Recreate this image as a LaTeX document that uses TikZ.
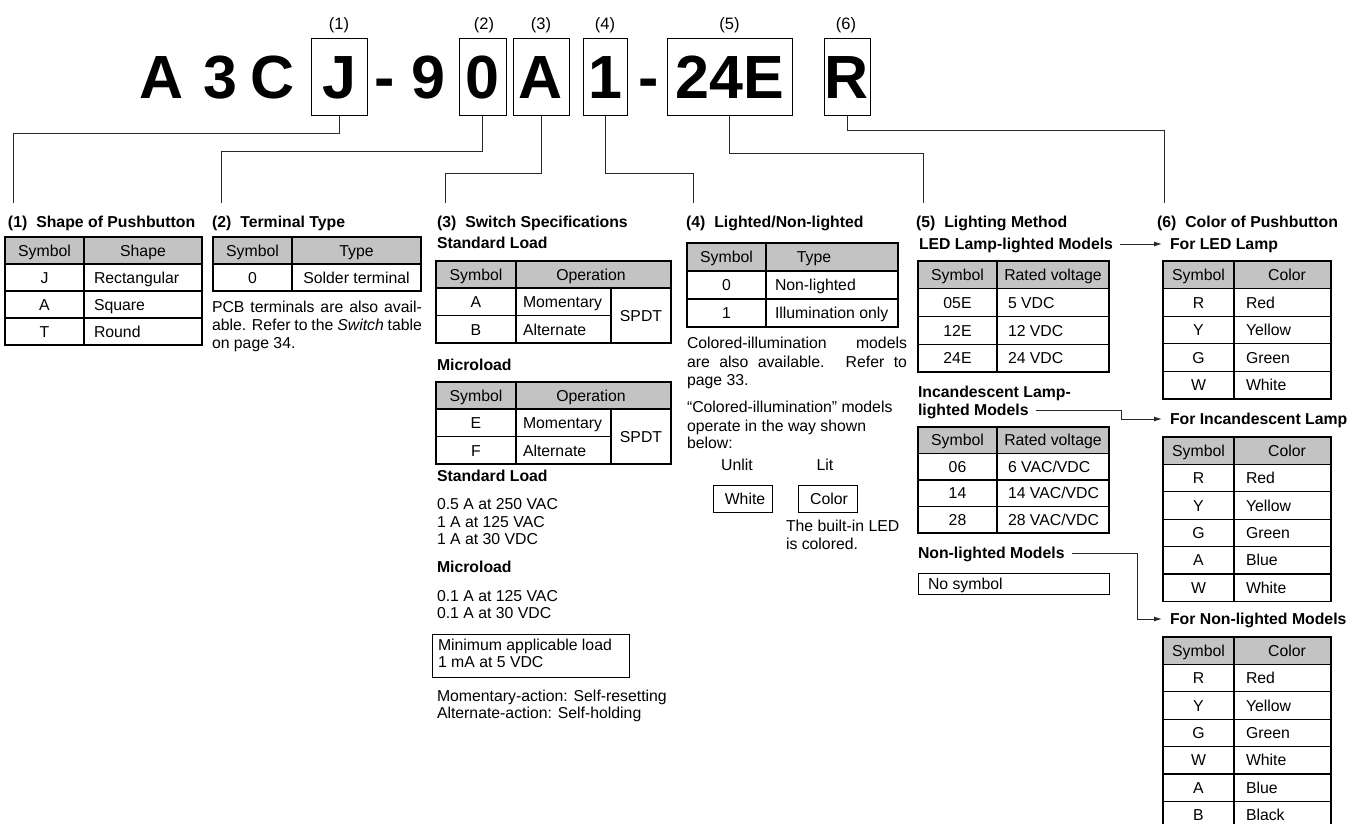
\documentclass[tikz,border=0pt]{standalone}
\usepackage{fontspec}
\setmainfont{Liberation Sans}
\usetikzlibrary{arrows.meta}
\definecolor{hdr}{RGB}{195,195,195}
\definecolor{lnc}{RGB}{40,40,40}
\newcommand\ftxt{\fontsize{15.8}{18}\selectfont}
\newcommand\fhead{\fontsize{15.8}{18}\selectfont\bfseries}
\newcommand\fbig{\fontsize{61}{61}\selectfont\bfseries}
\newcommand\flab{\fontsize{16.5}{18}\selectfont}
% two-column table grid: x0, xsplit, x1, y0, row height, number of rows
\newcommand\gridtwo[6]{%
  \fill[hdr] (#1,#4) rectangle (#3,{#4+#5});
  \foreach \k in {1,...,#6}{\draw[tb] (#1,{#4+#5*\k}) -- (#3,{#4+#5*\k});}
  \draw[tb] (#1,#4) rectangle (#3,{#4+#5*#6});
  \draw[tb] (#2,#4) -- (#2,{#4+#5*#6});
}
% switch table grid with spanning SPDT cell: y0
\newcommand\gridspdt[1]{%
  \fill[hdr] (436,#1) rectangle (671,{#1+27});
  \draw[tb] (436,#1) rectangle (671,{#1+82});
  \draw[tb] (436,{#1+27}) -- (671,{#1+27});
  \draw[tb] (436,{#1+54.5}) -- (611,{#1+54.5});
  \draw[tb] (516,#1) -- (516,{#1+82});
  \draw[tb] (611,{#1+27}) -- (611,{#1+82});
}
\begin{document}
\begin{tikzpicture}[x=1pt,y=-1pt,
  every node/.style={inner sep=0pt, outer sep=0pt, text height=11.3pt, text depth=0pt, font=\ftxt},
  cell/.style={anchor=center},
  lcell/.style={anchor=west},
  head/.style={anchor=west, font=\fhead},
  big/.style={font=\fbig, text height=43.7pt},
  lab/.style={font=\flab, text height=11.8pt},
  tbox/.style={draw=black, line width=1pt, big},
  tb/.style={draw=black, line width=1.1pt},
  conn/.style={draw=lnc, line width=1pt},
  arr/.style={conn, -{Latex[length=8pt,width=5pt]}},
  plainbox/.style={draw=black, line width=1pt}
]
\useasboundingbox (0,0) rectangle (1365,823);
\clip (0,0) rectangle (1365,823);

% ---------- title ----------
\node[lab] (l1) at (339,23.5) {(1)};
\node[lab] (l2) at (484,23.5) {(2)};
\node[lab] (l3) at (541,23.5) {(3)};
\node[lab] (l4) at (605,23.5) {(4)};
\node[lab] (l5) at (729.5,23.5) {(5)};
\node[lab] (l6) at (846,23.5) {(6)};

\node[big] (tA) at (162,76.5) {A};
\node[big] (t3) at (220,76.5) {3};
\node[big] (tC) at (273,76.5) {C};
\node[tbox, minimum width=56pt, minimum height=77pt] (bJ) at (339,76.5) {J};
\node[big] (td1) at (385,76.5) {-};
\node[big] (t9) at (428,76.5) {9};
\node[tbox, minimum width=47pt, minimum height=77pt] (b0) at (482.5,76.5) {0};
\node[tbox, minimum width=56pt, minimum height=77pt] (bA) at (541,76.5) {A};
\node[tbox, minimum width=44pt, minimum height=77pt] (b1) at (605,76.5) {1};
\node[big] (td2) at (649,76.5) {-};
\node[tbox, minimum width=125pt, minimum height=77pt] (b24) at (729.5,76.5) {24E};
\node[tbox, minimum width=46pt, minimum height=77pt] (bR) at (847,76.5) {R};

\coordinate (e1) at (13,203);
\coordinate (e2) at (221,203);
\coordinate (e3) at (445,203);
\coordinate (e4) at (693,203);
\coordinate (e5) at (923,203);
\coordinate (e6) at (1164,203);
\draw[conn] (bJ.south) -- (bJ.south |- 0,133) -| (e1);
\draw[conn] (b0.south) -- (b0.south |- 0,151) -| (e2);
\draw[conn] (bA.south) -- (bA.south |- 0,173) -| (e3);
\draw[conn] (b1.south) -- (b1.south |- 0,173) -| (e4);
\draw[conn] (b24.south) -- (b24.south |- 0,153) -| (e5);
\draw[conn] (bR.south) -- (bR.south |- 0,130) -| (e6);

% ---------- (1) ----------
\node[head] (h1) at (8,222) {(1)\hspace{9pt}Shape of Pushbutton};
\gridtwo{5}{84}{202}{237}{27}{4}
\node[cell] (t1h1) at (44.5,250.5) {Symbol};
\node[cell] (t1h2) at (143,250.5) {Shape};
\foreach \s/\c [count=\i] in {J/Rectangular,A/Square,T/Round}{
  \node[cell] (t1s\i) at (44.5,{237+27*\i+13.5}) {\s};
  \node[lcell] (t1c\i) at (94,{237+27*\i+13.5}) {\c};
}

% ---------- (2) ----------
\node[head] (h2) at (212,222) {(2)\hspace{9pt}Terminal Type};
\gridtwo{213}{292}{421}{237}{27}{2}
\node[cell] (t2h1) at (252.5,250.5) {Symbol};
\node[cell] (t2h2) at (356.5,250.5) {Type};
\node[cell] (t2s1) at (252.5,277.5) {0};
\node[cell] (t2c1) at (356.5,277.5) {Solder terminal};
\node[lcell] (p2a) at (212,307) {\makebox[210pt][s]{PCB terminals are also avail-}};
\node[lcell] (p2b) at (212,325) {\makebox[210pt][s]{able. Refer to the \textit{Switch} table}};
\node[lcell] (p2c) at (212,343) {on page 34.};

% ---------- (3) ----------
\node[head] (h3) at (437,222) {(3)\hspace{9pt}Switch Specifications};
\node[head] (s3a) at (437,243) {Standard Load};
\gridspdt{261}
\node[cell] (t3h1) at (476,274.5) {Symbol};
\node[cell] (t3h2) at (591,274.5) {Operation};
\node[cell] (t3s1) at (476,302) {A};
\node[lcell] (t3c1) at (523,302) {Momentary};
\node[cell] (t3s2) at (476,329.5) {B};
\node[lcell] (t3c2) at (523,329.5) {Alternate};
\node[cell] (t3sp) at (641,315.5) {SPDT};
\node[head] (s3b) at (437,365) {Microload};
\gridspdt{382}
\node[cell] (t4h1) at (476,395.5) {Symbol};
\node[cell] (t4h2) at (591,395.5) {Operation};
\node[cell] (t4s1) at (476,423) {E};
\node[lcell] (t4c1) at (523,423) {Momentary};
\node[cell] (t4s2) at (476,450.5) {F};
\node[lcell] (t4c2) at (523,450.5) {Alternate};
\node[cell] (t4sp) at (641,436.5) {SPDT};
\node[head] (s3c) at (437,476) {Standard Load};
\node[lcell] (r3a) at (437,504) {0.5 A at 250 VAC};
\node[lcell] (r3b) at (437,521.5) {1 A at 125 VAC};
\node[lcell] (r3c) at (437,539) {1 A at 30 VDC};
\node[head] (s3d) at (437,567) {Microload};
\node[lcell] (r3d) at (437,596) {0.1 A at 125 VAC};
\node[lcell] (r3e) at (437,613) {0.1 A at 30 VDC};
\node[plainbox, anchor=north west, minimum width=197pt, minimum height=43pt] (minbox) at (432,634) {};
\node[lcell] (m1) at (438,644.5) {Minimum applicable load};
\node[lcell] (m2) at (438,662) {1 mA at 5 VDC};
\node[lcell] (n1) at (437,696) {Momentary-action: Self-resetting};
\node[lcell] (n2) at (437,713) {Alternate-action: Self-holding};

% ---------- (4) ----------
\node[head] (h4) at (686,222) {(4)\hspace{9pt}Lighted/Non-lighted};
\gridtwo{687}{766}{898}{243}{28}{3}
\node[cell] (t5h1) at (726.5,257) {Symbol};
\node[cell] (t5h2) at (814,257) {Type};
\node[cell] (t5s1) at (726.5,285) {0};
\node[lcell] (t5c1) at (775,285) {Non-lighted};
\node[cell] (t5s2) at (726.5,313) {1};
\node[lcell] (t5c2) at (775,313) {Illumination only};
\node[lcell] (p4a) at (687,343) {\makebox[220pt][s]{Colored-illumination models}};
\node[lcell] (p4b) at (687,361.5) {\makebox[220pt][s]{are also available. Refer to}};
\node[lcell] (p4c) at (687,380) {page 33.};
\node[lcell] (p4d) at (687,407) {“Colored-illumination” models};
\node[lcell] (p4e) at (687,425.5) {operate in the way shown};
\node[lcell] (p4f) at (687,443) {below:};
\node[cell] (unlit) at (737,465) {Unlit};
\node[cell] (lit) at (825,465) {Lit};
\node[plainbox, minimum width=59pt, minimum height=27pt] (wbox) at (742.5,498.5) {};
\node[cell] (wtxt) at (745,498.5) {White};
\node[plainbox, minimum width=59pt, minimum height=27pt] (cbox) at (827.5,498.5) {};
\node[cell] (ctxt) at (829,498.5) {Color};
\node[lcell] (bi1) at (786,526) {The built-in LED};
\node[lcell] (bi2) at (786,544) {is colored.};

% ---------- (5) ----------
\node[head] (h5) at (916,222) {(5)\hspace{9pt}Lighting Method};
\node[head] (led) at (919,244) {LED Lamp-lighted Models};
\gridtwo{918}{997}{1109}{261}{27.75}{4}
\node[cell] (t6h1) at (957.5,275) {Symbol};
\node[cell] (t6h2) at (1053,275) {Rated voltage};
\foreach \s/\c [count=\i] in {05E/{5 VDC},12E/{12 VDC},24E/{24 VDC}}{
  \node[cell] (t6s\i) at (957.5,{261+27.75*\i+13.9}) {\s};
  \node[lcell] (t6c\i) at (1008,{261+27.75*\i+13.9}) {\c};
}
\node[head] (inc1) at (918,392) {Incandescent Lamp-};
\node[head] (inc2) at (918,410) {lighted Models};
\gridtwo{918}{997}{1109}{427}{26.5}{4}
\node[cell] (t7h1) at (957.5,440.3) {Symbol};
\node[cell] (t7h2) at (1053,440.3) {Rated voltage};
\foreach \s/\c [count=\i] in {06/{6 VAC/VDC},14/{14 VAC/VDC},28/{28 VAC/VDC}}{
  \node[cell] (t7s\i) at (957.5,{427+26.5*\i+13.25}) {\s};
  \node[lcell] (t7c\i) at (1008,{427+26.5*\i+13.25}) {\c};
}
\node[head] (non) at (918,553) {Non-lighted Models};
\node[plainbox, anchor=north west, minimum width=191pt, minimum height=21pt] (nsbox) at (918,573) {};
\node[lcell] (nsym) at (928,583.5) {No symbol};

% ---------- (6) ----------
\node[head] (h6) at (1157,222) {(6)\hspace{9pt}Color of Pushbutton};
\node[head] (fled) at (1170,244) {For LED Lamp};
\node[head] (finc) at (1170,419) {For Incandescent Lamp};
\node[head] (fnon) at (1170,619) {For Non-lighted Models};

\gridtwo{1163}{1234}{1331}{261}{27.6}{5}
\node[cell] (c1h1) at (1198.5,274.8) {Symbol};
\node[cell] (c1h2) at (1287,274.8) {Color};
\foreach \s/\c [count=\i] in {R/Red,Y/Yellow,G/Green,W/White}{
  \node[cell] (c1s\i) at (1198.5,{261+27.6*\i+13.8}) {\s};
  \node[lcell] (c1c\i) at (1246,{261+27.6*\i+13.8}) {\c};
}
\gridtwo{1163}{1234}{1331}{437}{27.4}{6}
\node[cell] (c2h1) at (1198.5,450.7) {Symbol};
\node[cell] (c2h2) at (1287,450.7) {Color};
\foreach \s/\c [count=\i] in {R/Red,Y/Yellow,G/Green,A/Blue,W/White}{
  \node[cell] (c2s\i) at (1198.5,{437+27.4*\i+13.7}) {\s};
  \node[lcell] (c2c\i) at (1246,{437+27.4*\i+13.7}) {\c};
}
\gridtwo{1163}{1234}{1331}{637}{27.4}{7}
\node[cell] (c3h1) at (1198.5,650.7) {Symbol};
\node[cell] (c3h2) at (1287,650.7) {Color};
\foreach \s/\c [count=\i] in {R/Red,Y/Yellow,G/Green,W/White,A/Blue,B/Black}{
  \node[cell] (c3s\i) at (1198.5,{637+27.4*\i+13.7}) {\s};
  \node[lcell] (c3c\i) at (1246,{637+27.4*\i+13.7}) {\c};
}

% arrows from (5) to (6)
\coordinate (k1) at (1121,410);
\coordinate (k2) at (1137,553);
\draw[arr] ([xshift=7pt]led.east) -- ([xshift=-8pt]fled.west);
\draw[arr] ([xshift=7pt]inc2.east) -- (k1) |- ([xshift=-8pt]finc.west);
\draw[arr] ([xshift=7pt]non.east) -- (k2) |- ([xshift=-8pt]fnon.west);
\end{tikzpicture}
\end{document}
